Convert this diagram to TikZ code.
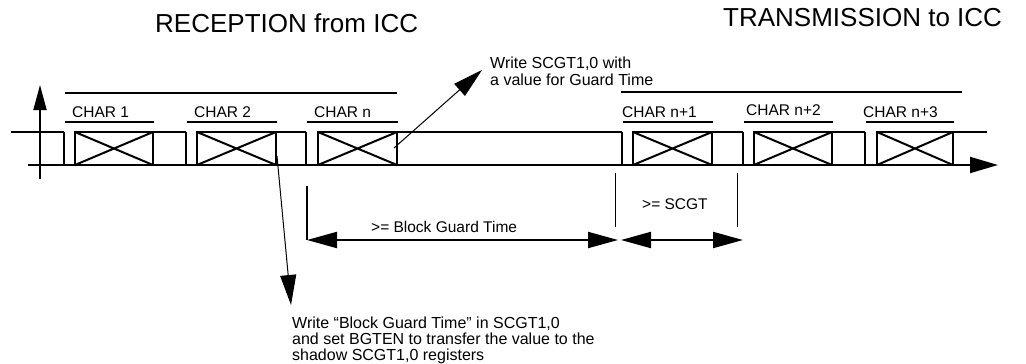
\documentclass[tikz,border=0pt]{standalone}
\usepackage{fontspec}
\setmainfont{Liberation Sans}
\usetikzlibrary{arrows.meta}
\begin{document}
\begin{tikzpicture}[x=1pt,y=-1pt,
  sig/.style={line width=2.6pt, line join=miter},
  cross/.style={line width=2pt},
  axis/.style={line width=1.8pt},
  uline/.style={line width=1.7pt},
  thin/.style={line width=1pt},
  lbl/.style={anchor=base west, inner sep=0pt, font=\fontsize{15.5}{17}\selectfont},
  ttl/.style={anchor=base west, inner sep=0pt, font=\fontsize{26}{30}\selectfont},
  note/.style={anchor=base west, inner sep=0pt, font=\fontsize{16}{17}\selectfont},
  tip/.style={-{Triangle[length=30pt,width=16pt]}, line width=1pt},
  dimarrow/.style={{Triangle[length=30pt,width=16pt]}-{Triangle[length=30pt,width=16pt]}, line width=2pt},
]
\useasboundingbox (0,0) rectangle (1026,364);

% titles
\node[ttl] (t1) at (155,32) {RECEPTION from ICC};
\node[ttl] (t2) at (723,27) {TRANSMISSION to ICC};

% axes
\coordinate (vaxb) at (40,179);
\coordinate (vaxt) at (40,85);
\coordinate (haxl) at (28,165);
\coordinate (haxr) at (998,165);
\draw[axis, -{Triangle[length=25pt,width=13pt]}] (vaxb) -- (vaxt);
\draw[axis, -{Triangle[length=28pt,width=16pt]}] (haxl) -- (haxr);

% top long lines
\draw[uline] (65,93) -- (397,93);
\draw[uline] (621,92) -- (962,92);

% characters
\foreach \d/\b/\e/\t/\lx/\ly [count=\i] in {
  64/75/153/CHAR 1/72/117,
  186/197/276/CHAR 2/194/117,
  306/318/397/CHAR n/314/117,
  622/633/712/CHAR n+1/622/117,
  743/754/832/CHAR n+2/746/115,
  865/877/953/CHAR n+3/863/117}{
  \draw[sig] (\d,132) -- (\d,165);
  \draw[sig] (\b,132) rectangle (\e,165);
  \draw[cross] (\b,132) -- (\e,165) (\b,165) -- (\e,132);
  \draw[uline] (\d+1,122) -- (\e+1,122);
  \node[lbl] (c\i) at (\lx,\ly) {\t};
}
% high (idle / stop) levels
\draw[sig] (11,132) -- (64,132);
\draw[sig] (153,132) -- (186,132);
\draw[sig] (276,132) -- (306,132);
\draw[sig] (397,132) -- (622,132);
\draw[sig] (712,132) -- (743,132);
\draw[sig] (832,132) -- (865,132);
\draw[sig] (953,132) -- (987,132);

% annotation: write SCGT
\node[note] (n1a) at (490,68) {Write SCGT1,0 with};
\node[note] (n1b) at (490,85.7) {a value for Guard Time};
\coordinate (a1s) at (394,148);
\coordinate (a1e) at (482,70);
\draw[tip] (a1s) -- (a1e);

% annotation: block guard time
\coordinate (a2s) at (277,156);
\coordinate (a2e) at (291,305);
\draw[tip] (a2s) -- (a2e);
\node[note] (n2a) at (292,328) {Write “Block Guard Time” in SCGT1,0};
\node[note] (n2b) at (292,344.5) {and set BGTEN to transfer the value to the};
\node[note] (n2c) at (292,360.5) {shadow SCGT1,0 registers};

% block guard time dimension
\coordinate (bgtt) at (307,186);
\coordinate (bgtl) at (307,240);
\coordinate (bgtr) at (618,240);
\draw[line width=1.8pt] (bgtt) -- (bgtl);
\draw[dimarrow] (bgtl) -- (bgtr);
\node[lbl] (bgtlbl) at (371,232) {>= Block Guard Time};

% SCGT dimension
\coordinate (s1t) at (615,173);
\coordinate (s1b) at (615,227);
\coordinate (s2t) at (737,173);
\coordinate (s2b) at (737,227);
\draw[thin] (s1t) -- (s1b);
\draw[thin] (s2t) -- (s2b);
\coordinate (scl) at (621,240);
\coordinate (scr) at (743,240);
\draw[dimarrow] (scl) -- (scr);
\node[lbl] (scgtlbl) at (642,209) {>= SCGT};
\end{tikzpicture}
\end{document}
